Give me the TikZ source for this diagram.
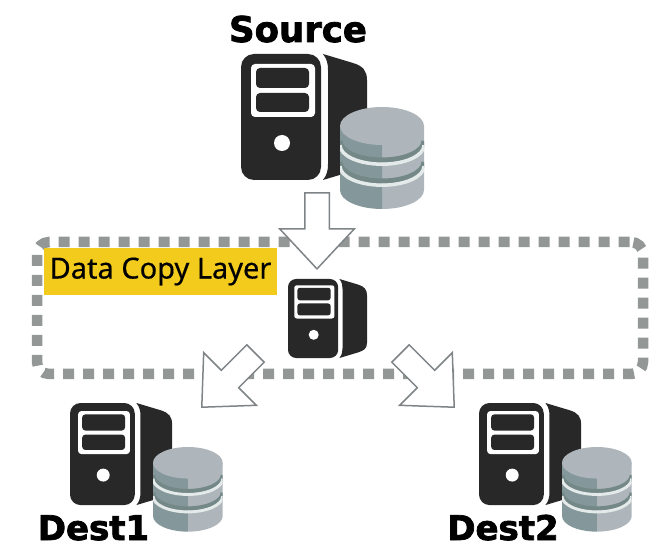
\documentclass[tikz,border=0pt]{standalone}
\usepackage{fontspec}
\usepackage{xcolor}
\usepackage{tikz}
\usetikzlibrary{shapes.arrows}
\newfontfamily\titlefont[FakeBold=2.2]{DejaVu Sans Bold}
\newfontfamily\layerfont[FakeBold=0.4]{Noto Sans}
\definecolor{serverdark}{HTML}{282828}
\definecolor{dblight}{HTML}{AEB6BB}
\definecolor{dbmid}{HTML}{84979A}
\definecolor{dbband}{HTML}{738887}
\definecolor{dbshine}{HTML}{E4E9E9}
\definecolor{framegray}{HTML}{939796}
\definecolor{labelyellow}{HTML}{F2CB1D}
\definecolor{arrowgray}{HTML}{7F8487}

\tikzset{
    pics/server/.style={code={
        \begin{scope}[scale=#1]
            \fill[serverdark, rounded corners=#1*13pt] (0,0) rectangle (80,126);
            \fill[serverdark] (82,0) -- (112,9) .. controls (122,12) and (126,17) .. (126,26) -- (126,102)
                .. controls (126,112) and (120,114) .. (112,117) -- (82,126)
                .. controls (86,121) and (87,116) .. (87,110) -- (87,16) .. controls (87,10) and (86,5) .. (82,0) -- cycle;
            \fill[white, rounded corners=#1*4pt] (10,10) rectangle (74,63);
            \fill[serverdark, rounded corners=#1*4pt] (15,14) rectangle (68,34);
            \fill[serverdark, rounded corners=#1*4pt] (15,39) rectangle (68,58);
            \fill[white] (41,89) circle (8);
        \end{scope}
    }},
    pics/database/.style={code={
        \begin{scope}[scale=#1]
            \fill[dblight] (42,19) -- (84,19) -- (84,83) arc[start angle=0, end angle=90, x radius=42, y radius=19] -- cycle;
            \fill[dbmid] (42,19) -- (0,19) -- (0,83) arc[start angle=180, end angle=90, x radius=42, y radius=19] -- cycle;
            % disk gaps
            \begin{scope}
                \clip (0,19) -- (84,19) -- (84,83) arc[start angle=0, end angle=180, x radius=42, y radius=19] -- cycle;
                \foreach \gapy in {34,55} {
                    \draw[dbband, line width=#1*5pt] (0,\gapy) arc[start angle=180, end angle=0, x radius=42, y radius=19];
                    \draw[dbshine, line width=#1*3.5pt] (0,\gapy+4.2) arc[start angle=180, end angle=0, x radius=42, y radius=19];
                }
            \end{scope}
            \fill[dblight] (42,19) ellipse [x radius=42, y radius=19];
        \end{scope}
    }}
}

\begin{document}
\begin{tikzpicture}[
    x=1pt, y=-1pt,
    title/.style={font=\titlefont\fontsize{#1}{36}\selectfont, anchor=base, inner sep=0pt},
    layerbox/.style={draw=framegray, line width=10.5pt, dash pattern=on 11pt off 9pt, dash phase=18.5pt, rounded corners=12pt, minimum width=606pt, minimum height=132pt},
    layerlabel/.style={fill=labelyellow, font=\layerfont\fontsize{29}{31}\selectfont, minimum width=233pt, minimum height=47pt, inner sep=0pt},
    blockarrow/.style={single arrow, draw=arrowgray, line width=1.5pt, fill=white, inner sep=11.5pt, minimum height=76pt,
        single arrow head extend=25pt, single arrow head indent=0pt, single arrow tip angle=86, anchor=tip}
]
\useasboundingbox (0,0) rectangle (667,553);

% Copy layer
\node[layerbox] (layer) at (340,308) {};
\node[layerlabel] (layername) at (160.5,271.5) {\raisebox{-2pt}{Data Copy Layer}};

% Servers
\pic (source) at (241,54) {server=1};
\pic (sourcedb) at (340,107) {database=1};
\pic (copier) at (288,279) {server=0.627};
\pic (dest1) at (70,403) {server=0.81};
\pic (dest1db) at (153,447) {database=0.83};
\pic (dest2) at (479,403) {server=0.81};
\pic (dest2db) at (562,447) {database=0.83};

% Labels
\node[title=35.5] (sourcename) at (298,42) {Source};
\node[title=34] (dest1name) at (93.5,540) {Dest1};
\node[title=34] (dest2name) at (503,540) {Dest2};

% Flows
\node[blockarrow, rotate=-90] (intoLayer) at (317,270) {};
\node[blockarrow, rotate=225] (toDest1) at (201,408) {};
\node[blockarrow, rotate=-45] (toDest2) at (455,408) {};

\end{tikzpicture}
\end{document}
